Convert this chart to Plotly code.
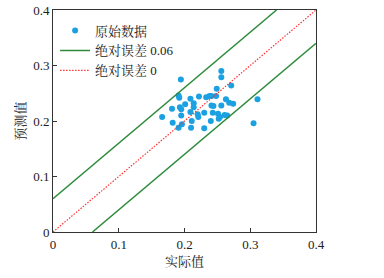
import plotly.graph_objects as go

actual = [0.1945, 0.256, 0.256, 0.271, 0.249, 0.191, 0.192, 0.209, 0.222, 0.233, 0.238, 0.241,
          0.248, 0.263, 0.268, 0.274, 0.311, 0.181, 0.193, 0.195, 0.201, 0.214, 0.214, 0.241,
          0.244, 0.256, 0.166, 0.195, 0.209, 0.220, 0.221, 0.230, 0.243, 0.251, 0.254, 0.261,
          0.265, 0.182, 0.196, 0.211, 0.240, 0.252, 0.191, 0.210, 0.230, 0.305]
predicted = [0.275, 0.290, 0.279, 0.264, 0.258, 0.246, 0.242, 0.240, 0.244, 0.243, 0.245, 0.245,
             0.245, 0.239, 0.233, 0.231, 0.239, 0.222, 0.225, 0.221, 0.230, 0.232, 0.225, 0.228,
             0.227, 0.228, 0.207, 0.210, 0.216, 0.212, 0.207, 0.215, 0.215, 0.213, 0.207, 0.211,
             0.210, 0.197, 0.194, 0.200, 0.200, 0.204, 0.188, 0.188, 0.187, 0.196]

ref_x = [0, 0.4]
err = 0.06
upper_x = [0, 0.4 - err]
lower_x = [err, 0.4]

ticks = [0, 0.1, 0.2, 0.3, 0.4]
tick_text = ["0", "0.1", "0.2", "0.3", "0.4"]

FONT = "Liberation Serif, Noto Serif CJK SC, Noto Sans CJK SC, serif"
GREEN = "#2e8b3c"
BLUE = "#1ba1e2"

fig = go.Figure()
fig.add_trace(go.Scatter(x=actual, y=predicted, mode="markers", name="原始数据",
                         marker=dict(color=BLUE, size=6)))
fig.add_trace(go.Scatter(x=upper_x, y=[v + err for v in upper_x], mode="lines",
                         name="绝对误差 0.06", line=dict(color=GREEN, width=1.5)))
fig.add_trace(go.Scatter(x=ref_x, y=ref_x, mode="lines", name="绝对误差 0",
                         line=dict(color="#ff3030", width=1.2, dash="1.5px,1.5px")))
fig.add_trace(go.Scatter(x=lower_x, y=[v - err for v in lower_x], mode="lines",
                         showlegend=False, line=dict(color=GREEN, width=1.5)))

axis_common = dict(range=[0, 0.4], tickvals=ticks, ticktext=tick_text, ticks="inside",
                   ticklen=4, tickcolor="#333", showline=True, linecolor="#333", linewidth=1,
                   mirror=True, showgrid=False, zeroline=False, automargin=False,
                   tickfont=dict(family=FONT, size=13, color="#222"))

fig.update_layout(
    width=384, height=278,
    margin=dict(l=53, r=68, t=10, b=46, autoexpand=False),
    paper_bgcolor="white", plot_bgcolor="white",
    font=dict(family=FONT, size=13, color="#222"),
    xaxis=dict(title=dict(text="实际值", font=dict(family=FONT, size=13), standoff=6), **axis_common),
    yaxis=dict(title=dict(text="预测值", font=dict(family=FONT, size=13), standoff=4), **axis_common),
    legend=dict(x=0.008, y=0.975, xanchor="left", yanchor="top", bgcolor="rgba(0,0,0,0)",
                font=dict(family=FONT, size=13), itemwidth=30, tracegroupgap=0),
)

fig.write_html("out.html", config={"displayModeBar": False},
               post_script="document.body.style.margin='0';")
